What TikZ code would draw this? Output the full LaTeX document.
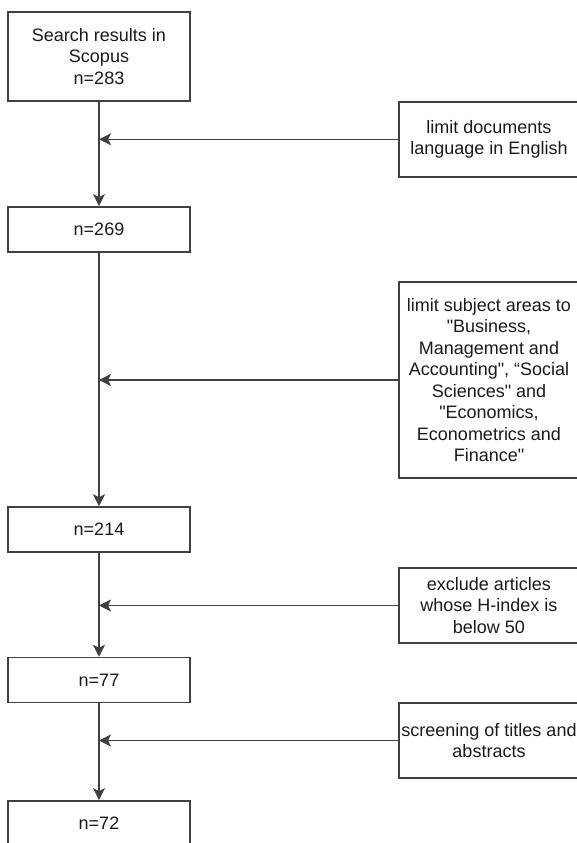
\documentclass[tikz,border=0pt]{standalone}
\usepackage{fontspec}
\setmainfont{Liberation Sans}
\usepackage{xcolor}
\definecolor{cLine}{HTML}{404040}
\definecolor{cText}{HTML}{1A1A1A}
\usetikzlibrary{arrows.meta}
\tikzset{
  node-box/.style={draw=cLine,line width=1.5pt,inner sep=0pt,align=center,
    text=cText,font=\fontsize{18}{21.5}\selectfont},
  node-count/.style={node-box,minimum width=182pt,minimum height=45pt},
  node-filter/.style={node-box,minimum width=180pt,minimum height=75pt},
  arrow/.style={-{Stealth[length=12pt,width=12pt,inset=3pt]},line width=1.5pt,draw=cLine},
}

\begin{document}
\begin{tikzpicture}[x=1pt,y=1pt]
  \useasboundingbox (0,0) rectangle (577,843);
  \clip (0,0) rectangle (577,843);
  % counts down the left
  \node[node-count,minimum height=89pt] (search) at (99,786.7) {Search results in\\Scopus\\n=283};
  \node[node-count] (n269) at (99,613.6) {n=269};
  \node[node-count] (n214) at (99,313.5) {n=214};
  \node[node-count] (n77) at (99,163) {n=77};
  \node[node-count] (n72) at (99,19.6) {n=72};
  % filters on the right
  \node[node-filter] (lang) at (489,703.7) {limit documents\\language in English};
  \node[node-filter,minimum height=196pt] (area) at (489,463) {limit subject areas to\\\textquotedbl Business,\\Management and\\Accounting\textquotedbl, “Social\\Sciences\textquotedbl{} and\\\textquotedbl Economics,\\Econometrics and\\Finance\textquotedbl};
  \node[node-filter] (hidx) at (489,237.5) {exclude articles\\whose H-index is\\below 50};
  \node[node-filter] (screen) at (489,102.5) {screening of titles and\\abstracts};
  \draw[arrow] (search) -- (n269);
  \draw[arrow] (n269) -- (n214);
  \draw[arrow] (n214) -- (n77);
  \draw[arrow] (n77) -- (n72);
  \draw[arrow] (lang) -- (lang.west -| search);
  \draw[arrow] (area) -- (area.west -| search);
  \draw[arrow] (hidx) -- (hidx.west -| search);
  \draw[arrow] (screen) -- (screen.west -| search);
\end{tikzpicture}
\end{document}
